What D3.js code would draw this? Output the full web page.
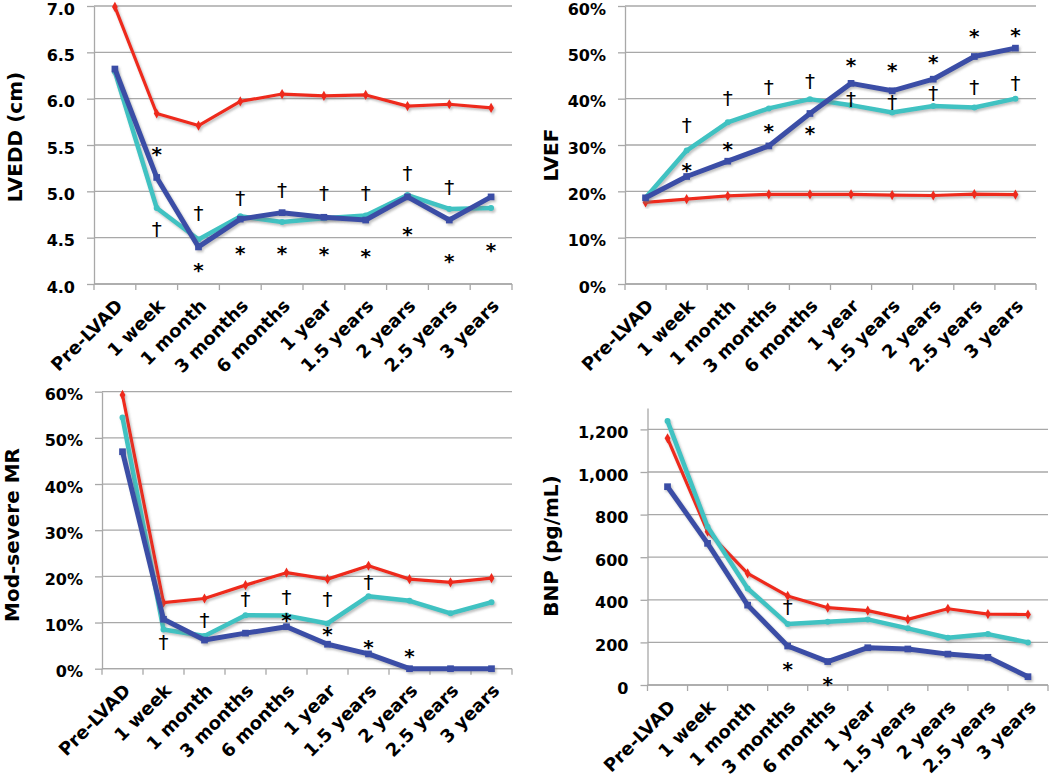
<!DOCTYPE html>
<html>
<head>
<meta charset="utf-8">
<script src="https://cdn.jsdelivr.net/npm/d3@7"></script>
<style>
  body { margin: 0; background: #fff; }
  text { font-family: "DejaVu Sans", sans-serif; fill: #000; }
</style>
</head>
<body>
<div id="chart-area"></div>
<script>
/*
*    four LVAD follow-up panels
*/

// categories
var timepoints = ["Pre-LVAD", "1 week", "1 month", "3 months", "6 months",
                  "1 year", "1.5 years", "2 years", "2.5 years", "3 years"];

// LVEDD (cm)
var lveddRed  = [6.99, 5.84, 5.71, 5.97, 6.05, 6.03, 6.04, 5.92, 5.94, 5.90];
var lveddTeal = [6.29, 4.82, 4.48, 4.73, 4.67, 4.71, 4.74, 4.96, 4.81, 4.82];
var lveddBlue = [6.32, 5.15, 4.40, 4.70, 4.77, 4.72, 4.69, 4.94, 4.69, 4.94];
var lveddTicks = [4.0, 4.5, 5.0, 5.5, 6.0, 6.5, 7.0];
var lveddMarks = [[1, "*", 5.45], [1, "†", 4.58], [2, "†", 4.76], [2, "*", 4.19],
                  [3, "†", 4.92], [3, "*", 4.38], [4, "†", 5.00], [4, "*", 4.38],
                  [5, "†", 4.97], [5, "*", 4.37], [6, "†", 4.97], [6, "*", 4.35],
                  [7, "†", 5.19], [7, "*", 4.58], [8, "†", 5.04], [8, "*", 4.29],
                  [9, "*", 4.41]];

// LVEF (%)
var lvefRed  = [17.6, 18.3, 19.0, 19.35, 19.35, 19.35, 19.2, 19.1, 19.4, 19.3];
var lvefTeal = [18.6, 28.8, 34.9, 37.9, 39.9, 38.6, 37.0, 38.4, 38.1, 40.0];
var lvefBlue = [18.6, 23.2, 26.5, 29.8, 36.8, 43.3, 41.7, 44.2, 49.1, 50.9];
var lvefTicks = [0, 10, 20, 30, 40, 50, 60];
var lvefMarks = [[1, "†", 34.0], [1, "*", 25.5], [2, "†", 39.9], [2, "*", 30.0],
                 [3, "†", 42.4], [3, "*", 33.8], [4, "†", 43.6], [4, "*", 33.5],
                 [5, "*", 48.1], [5, "†", 39.7], [6, "*", 47.1], [6, "†", 39.0],
                 [7, "*", 48.8], [7, "†", 40.9], [8, "*", 54.3], [8, "†", 42.2],
                 [9, "*", 54.6], [9, "†", 43.1]];

// Mod-severe MR (%)
var mrRed  = [59.3, 14.3, 15.2, 18.1, 20.8, 19.4, 22.3, 19.4, 18.7, 19.6];
var mrTeal = [54.4, 8.5, 7.1, 11.6, 11.5, 9.8, 15.7, 14.7, 12.0, 14.4];
var mrBlue = [47.0, 10.7, 6.2, 7.7, 9.1, 5.3, 3.2, 0, 0, 0];
var mrTicks = [0, 10, 20, 30, 40, 50, 60];
var mrMarks = [[1, "†", 5.5], [2, "†", 10.4], [3, "†", 14.9], [4, "†", 15.4],
               [4, "*", 11.4], [5, "†", 14.9], [5, "*", 8.4], [6, "†", 18.6],
               [6, "*", 5.5], [7, "*", 3.7]];

// BNP (pg/mL)
var bnpRed  = [1158, 720, 524, 418, 363, 349, 308, 358, 333, 331];
var bnpTeal = [1239, 743, 453, 286, 297, 308, 266, 222, 239, 200];
var bnpBlue = [931, 665, 375, 183, 110, 175, 169, 145, 130, 39];
var bnpTicks = [0, 200, 400, 600, 800, 1000, 1200];
var bnpMarks = [[3, "†", 363], [3, "*", 94], [4, "*", 23]];

var RED = "#ee2b1c", TEAL = "#3fc2c2", BLUE = "#3a4ea6", GRID = "#a8a8a8";

var svg = d3.select("#chart-area")
  .append("svg")
  .attr("width", 1050)
  .attr("height", 779);

var defs = svg.append("defs");
defs.append("filter")
  .attr("id", "shadow")
  .attr("x", "-5%").attr("y", "-5%").attr("width", "110%").attr("height", "110%")
  .append("feDropShadow")
  .attr("dx", 1.5).attr("dy", 2)
  .attr("stdDeviation", 1.2)
  .attr("flood-color", "#777")
  .attr("flood-opacity", 0.45);

function drawPanel(p) {
  var g = svg.append("g");

  var x = d3.scaleBand().domain(timepoints).range([p.left, p.right]);
  var y = d3.scaleLinear().domain(p.domain).range([p.bottom, p.top]);

  // gridlines
  g.selectAll(".grid").data(p.ticks).enter()
    .append("line")
    .attr("x1", p.left).attr("x2", p.right)
    .attr("y1", (d) => y(d)).attr("y2", (d) => y(d))
    .attr("stroke", GRID).attr("stroke-width", 1.3);

  // y axis
  var yAxisCall = d3.axisLeft(y)
    .tickValues(p.ticks)
    .tickSizeInner(7).tickSizeOuter(0)
    .tickPadding(12)
    .tickFormat(p.fmt);
  var yAxisGroup = g.append("g")
    .attr("transform", "translate(" + p.left + ",0)")
    .call(yAxisCall);
  yAxisGroup.select(".domain").attr("stroke", GRID).attr("stroke-width", 1.3);
  yAxisGroup.selectAll(".tick line").attr("stroke", GRID).attr("stroke-width", 1.3);
  yAxisGroup.selectAll("text")
    .attr("font-size", "16px")
    .attr("font-weight", "bold")
    .attr("font-family", "DejaVu Sans")
    .attr("fill", "#000")
    .attr("y", 3);

  // x axis: labels at band centres, ticks at band edges
  var xAxisGroup = g.append("g")
    .attr("transform", "translate(0," + p.bottom + ")")
    .call(d3.axisBottom(x).tickSize(0).tickPadding(0));
  xAxisGroup.select(".domain").remove();
  xAxisGroup.selectAll("text")
    .attr("font-size", "18px")
    .attr("font-weight", "bold")
    .attr("font-family", "DejaVu Sans")
    .attr("fill", "#000")
    .attr("x", 0).attr("y", 0).attr("dy", 0)
    .attr("text-anchor", "end")
    .attr("transform", "translate(9,23) rotate(-45)");

  g.append("line")
    .attr("x1", p.left).attr("x2", p.right)
    .attr("y1", p.bottom).attr("y2", p.bottom)
    .attr("stroke", GRID).attr("stroke-width", 1.3);
  var edges = timepoints.map((d) => x(d)).concat([x.range()[1]]);
  g.selectAll(".xtick").data(edges).enter()
    .append("line")
    .attr("x1", (d) => d).attr("x2", (d) => d)
    .attr("y1", p.bottom).attr("y2", p.bottom + 6)
    .attr("stroke", GRID).attr("stroke-width", 1.3);

  // y label
  g.append("text")
    .attr("transform", "translate(" + p.labelX + "," + p.labelY + ") rotate(-90)")
    .attr("text-anchor", "middle")
    .attr("font-size", "20px")
    .attr("font-weight", "bold")
    .text(p.label);

  // series
  var cx = (i) => x(timepoints[i]) + x.bandwidth() / 2;
  var line = d3.line().x((d, i) => cx(i)).y((d) => y(d));

  var series = [
    {vals: p.red,  color: RED,  w: 3.2, shape: d3.symbolDiamond, size: 30},
    {vals: p.teal, color: TEAL, w: 4.5, shape: d3.symbolCircle,  size: 28},
    {vals: p.blue, color: BLUE, w: 5,   shape: d3.symbolSquare,  size: 45}
  ];

  series.forEach((s) => {
    var sg = g.append("g").attr("filter", "url(#shadow)");
    sg.append("path")
      .datum(s.vals)
      .attr("d", line)
      .attr("fill", "none")
      .attr("stroke", s.color)
      .attr("stroke-width", s.w)
      .attr("stroke-linejoin", "round");
    sg.selectAll("path.mk").data(s.vals).enter()
      .append("path")
      .attr("class", "mk")
      .attr("transform", (d, i) => "translate(" + cx(i) + "," + y(d) + ")")
      .attr("d", d3.symbol().type(s.shape).size(s.size))
      .attr("fill", s.color);
  });

  // significance marks
  g.selectAll(".mark").data(p.marks).enter()
    .append("text")
    .attr("x", (d) => cx(d[0]))
    .attr("y", (d) => y(d[2]) + (d[1] === "*" ? 11 : 6))
    .attr("text-anchor", "middle")
    .attr("font-size", "20px")
    .attr("font-weight", (d) => d[1] === "*" ? "bold" : "normal")
    .text((d) => d[1]);
}

drawPanel({
  left: 94, right: 512, top: 6, bottom: 284, domain: [4, 7],
  ticks: lveddTicks, fmt: d3.format(".1f"),
  label: "LVEDD (cm)", labelX: 22, labelY: 137,
  red: lveddRed, teal: lveddTeal, blue: lveddBlue, marks: lveddMarks
});

drawPanel({
  left: 625, right: 1036, top: 6, bottom: 284, domain: [0, 60],
  ticks: lvefTicks, fmt: (d) => d + "%",
  label: "LVEF", labelX: 558, labelY: 155,
  red: lvefRed, teal: lvefTeal, blue: lvefBlue, marks: lvefMarks
});

drawPanel({
  left: 102, right: 512, top: 391.7, bottom: 668.7, domain: [0, 60],
  ticks: mrTicks, fmt: (d) => d + "%",
  label: "Mod-severe MR", labelX: 19, labelY: 535,
  red: mrRed, teal: mrTeal, blue: mrBlue, marks: mrMarks
});

drawPanel({
  left: 647.5, right: 1048, top: 408.1, bottom: 685, domain: [0, 1300],
  ticks: bnpTicks, fmt: d3.format(","),
  label: "BNP (pg/mL)", labelX: 558, labelY: 546,
  red: bnpRed, teal: bnpTeal, blue: bnpBlue, marks: bnpMarks
});
</script>
</body>
</html>
